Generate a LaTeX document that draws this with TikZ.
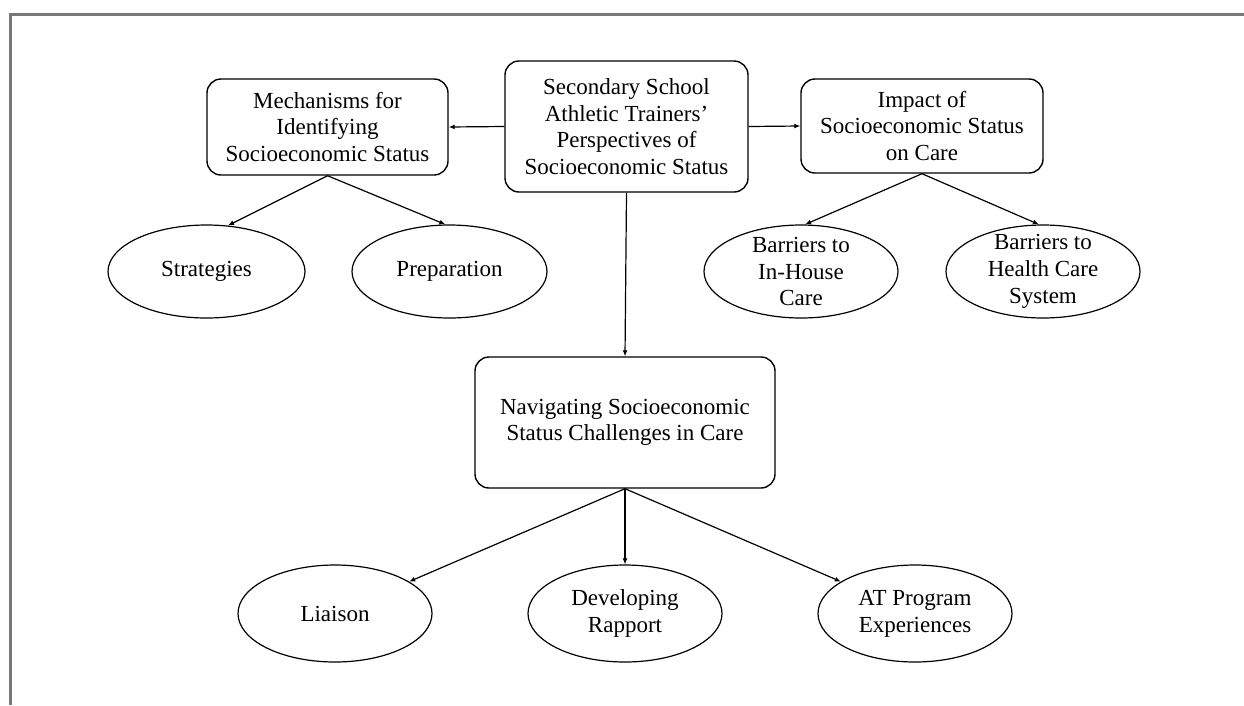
\documentclass[tikz,border=0pt]{standalone}
\usepackage{fontspec}
\setmainfont{Liberation Serif}
\usetikzlibrary{arrows.meta,shapes.geometric}
\definecolor{frame}{RGB}{120,120,120}
\begin{document}
\begin{tikzpicture}[x=1pt,y=-1pt,
  txt/.style={align=center,font=\fontsize{23}{26.7}\selectfont,inner sep=0pt},
  rbox/.style={draw,line width=1.4pt,rounded corners=14pt,inner sep=0pt,
    align=center,font=\fontsize{23}{26.7}\selectfont},
  ell/.style={draw,line width=1.2pt,ellipse,inner sep=0pt},
  arr/.style={line width=1.2pt,-{Latex[length=6pt,width=5pt]}},
  framel/.style={draw=frame,line width=3pt}]
\useasboundingbox (0,0) rectangle (1244,705);
\coordinate (ftop) at (10,14);
\coordinate (fright) at (1244,14);
\coordinate (fbot) at (10,705);
\draw[framel] (fbot) -- (ftop) -- (fright);

% boxes
\node[rbox,minimum width=243pt,minimum height=131pt] (ctr) at (626.5,126.5)
  {Secondary School\\Athletic Trainers'\\Perspectives of\\Socioeconomic Status};
\node[rbox,minimum width=241pt,minimum height=96pt] (mech) at (327.5,127)
  {Mechanisms for\\Identifying\\Socioeconomic Status};
\node[rbox,minimum width=242pt,minimum height=94pt] (imp) at (922,126)
  {Impact of\\Socioeconomic Status\\on Care};
\node[rbox,minimum width=300pt,minimum height=131pt] (nav) at (625,422.5)
  {Navigating Socioeconomic\\Status Challenges in Care};

% ellipses
\node[ell,minimum width=197pt,minimum height=93pt] (strat) at (206.5,271.5) {};
\node[txt] (strat-t) at (strat.center) {Strategies};
\node[ell,minimum width=195pt,minimum height=93pt] (prep) at (449.5,271.5) {};
\node[txt] (prep-t) at (prep.center) {Preparation};
\node[ell,minimum width=194pt,minimum height=93pt] (inh) at (801,271.5) {};
\node[txt] (inh-t) at (inh.center) {Barriers to\\In-House\\Care};
\node[ell,minimum width=194pt,minimum height=93pt] (hcs) at (1043,271.5) {};
\node[txt] (hcs-t) at (hcs.center) {Barriers to\\Health Care\\System};
\node[ell,minimum width=194pt,minimum height=97pt] (lia) at (335,613.5) {};
\node[txt] (lia-t) at (lia.center) {Liaison};
\node[ell,minimum width=194pt,minimum height=97pt] (dev) at (625,613.5) {};
\node[txt] (dev-t) at (dev.center) {Developing\\Rapport};
\node[ell,minimum width=194pt,minimum height=97pt] (atp) at (915,613.5) {};
\node[txt] (atp-t) at (atp.center) {AT Program\\Experiences};

% connectors
\draw[arr] (ctr.west) -- (mech.east);
\draw[arr] (ctr.east) -- (imp.west);
\draw[arr] (ctr.south) -- (nav.north);
\draw[arr] (mech.south) -- (strat.65);
\draw[arr] (mech.south) -- (prep.95);
\draw[arr] (imp.south) -- (inh.85);
\draw[arr] (imp.south) -- (hcs.95);
\draw[arr] (nav.south) -- (lia);
\draw[arr] (nav.south) -- (dev);
\draw[arr] (nav.south) -- (atp);
\end{tikzpicture}
\end{document}
